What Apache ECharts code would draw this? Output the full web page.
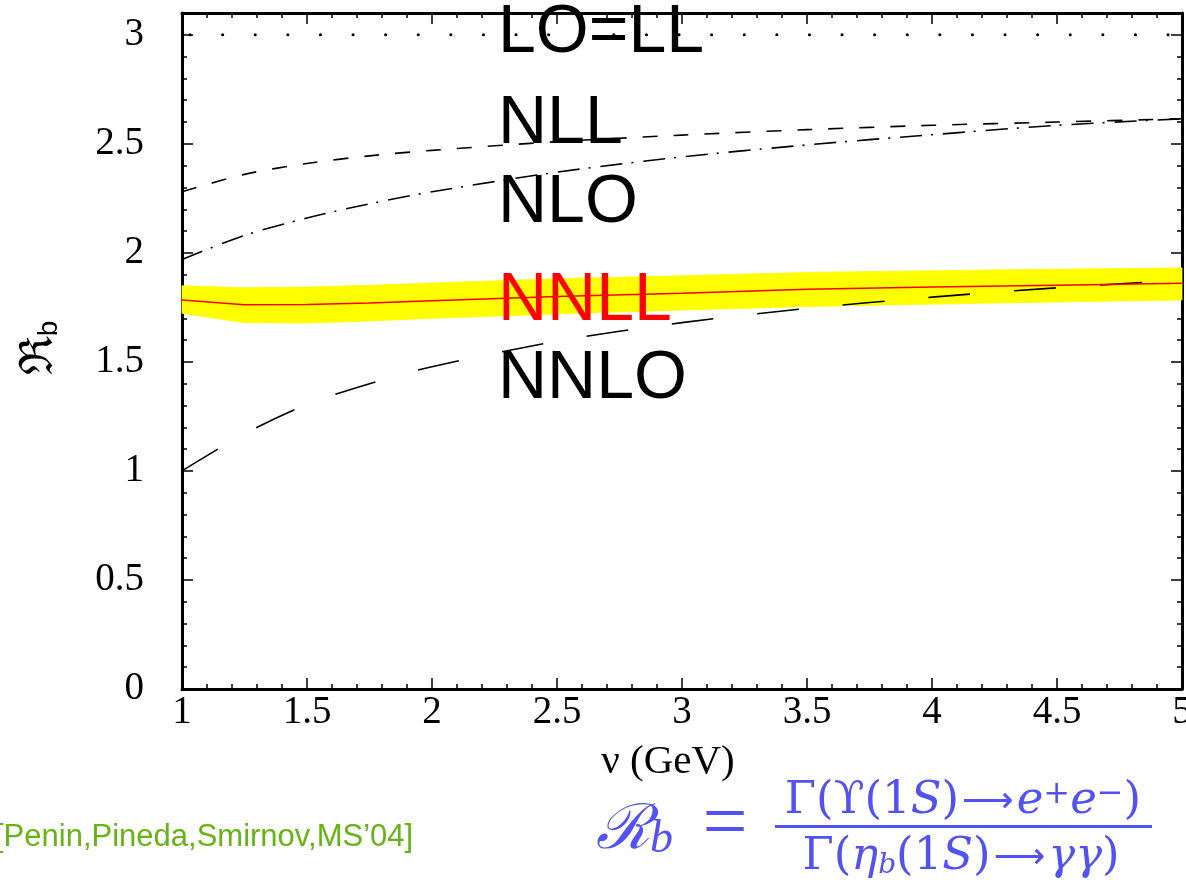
<!DOCTYPE html>
<html><head><meta charset="utf-8">
<script src="https://cdn.jsdelivr.net/npm/echarts@6/dist/echarts.min.js"></script>
<style>html,body{margin:0;padding:0;background:#fff}#c{width:1186px;height:882px}</style>
</head><body><div id="c"></div>
<script>
// ---- data ----
const nu        = [1,    1.25,  1.5,   1.75,  2,     2.5,   3,     3.5,   4,     4.5,   5];
const loLL      = [3,    3,     3,     3,     3,     3,     3,     3,     3,     3,     3];
const nll       = [2.28, 2.36,  2.41,  2.445, 2.47,  2.51,  2.54,  2.565, 2.585, 2.60,  2.615];
const nlo       = [1.97, 2.08,  2.16,  2.225, 2.28,  2.37,  2.44,  2.495, 2.542, 2.585, 2.615];
const nnll      = [1.784,1.762, 1.763, 1.77,  1.78,  1.80,  1.815, 1.833, 1.843, 1.852, 1.861];
const nnllUpper = [1.849,1.840, 1.843, 1.851, 1.862, 1.881, 1.895, 1.910, 1.918, 1.925, 1.931];
const nnllLower = [1.723,1.680, 1.678, 1.688, 1.700, 1.720, 1.738, 1.754, 1.765, 1.775, 1.784];
const nnlo      = [1.0,  1.17,  1.305, 1.40,  1.478, 1.595, 1.68,  1.745, 1.797, 1.84,  1.875];
const curveLabels = ['LO=LL', 'NLL', 'NLO', 'NNLL', 'NNLO'];
const xName = 'ν (GeV)';
const citation = '[Penin,Pineda,Smirnov,MS\u201904]';

const pairs = ys => nu.map((x, i) => [x, ys[i]]);

const serif = '"Liberation Serif","Times New Roman",serif';
const dserif = '"DejaVu Serif",serif';
const sans = '"Liberation Sans",Arial,sans-serif';
const blue = '#5252f2';

function xAx(pos, major, labels) {
  return {
    type: 'value', min: 1, max: 5, interval: major ? 0.5 : 0.1, position: pos,
    axisLine: { show: major, onZero: false, lineStyle: { color: '#000', width: 3 } },
    axisTick: { show: true, inside: true, length: major ? 11 : 5, lineStyle: { color: '#000', width: 1.5 } },
    axisLabel: { show: labels, fontFamily: serif, fontSize: 39, color: '#000', margin: 4,
                 formatter: v => String(v) },
    splitLine: { show: false }
  };
}
function yAx(pos, major, labels) {
  return {
    type: 'value', min: 0, max: 3.1, interval: major ? 0.5 : 0.1, position: pos,
    axisLine: { show: major, onZero: false, lineStyle: { color: '#000', width: 3 } },
    axisTick: { show: true, inside: true, length: major ? 11 : 5, lineStyle: { color: '#000', width: 1.5 } },
    axisLabel: { show: labels, fontFamily: serif, fontSize: 39, color: '#000', margin: 38,
                 formatter: v => (Math.abs(v * 2 - Math.round(v * 2)) < 1e-6 ? String(v) : '') },
    splitLine: { show: false }
  };
}

const chart = echarts.init(document.getElementById('c'), null, { renderer: 'canvas' });
const labelFont = 'normal 68px ' + sans;
const fracRich = {
  n: { font: 'normal 45px ' + dserif, fill: blue, verticalAlign: 'bottom' },
  i: { font: 'italic 45px ' + dserif, fill: blue, verticalAlign: 'bottom' },
  a: { font: 'normal 36px "DejaVu Sans",sans-serif', fill: blue, verticalAlign: 'bottom', padding: [0, 3, 3, 3] },
  p: { font: 'normal 32px ' + dserif, fill: blue, verticalAlign: 'top' },
  s: { font: 'italic 28px ' + dserif, fill: blue, verticalAlign: 'bottom' }
};
chart.setOption({
  animation: false,
  backgroundColor: '#fff',
  grid: { left: 182, top: 13, right: 4, bottom: 193, containLabel: false, outerBoundsMode: 'none' },
  xAxis: [xAx('bottom', true, true), xAx('bottom', false, false), xAx('top', true, false), xAx('top', false, false)],
  yAxis: [yAx('left', true, true), yAx('left', false, false), yAx('right', true, false), yAx('right', false, false)],
  series: [
    { name: 'NNLL band', type: 'custom', silent: true, z: 1,
      data: nu.map((x, i) => [x, nnllLower[i], nnllUpper[i]]),
      renderItem: function (params, api) {
        const i = params.dataIndex;
        if (i >= nu.length - 1) return null;
        const pts = [
          api.coord([nu[i], nnllLower[i]]), api.coord([nu[i + 1], nnllLower[i + 1]]),
          api.coord([nu[i + 1], nnllUpper[i + 1]]), api.coord([nu[i], nnllUpper[i]])
        ];
        return { type: 'polygon', shape: { points: pts },
                 style: { fill: '#ffff00', stroke: '#ffff00', lineWidth: 0.8 } };
      } },
    { name: 'LO=LL', type: 'line', data: pairs(loLL), symbol: 'none',
      lineStyle: { color: '#000', width: 3, type: [0.1, 32.5], cap: 'round', dashOffset: -8 }, z: 3 },
    { name: 'NLL', type: 'line', data: pairs(nll), symbol: 'none', smooth: 0.3,
      lineStyle: { color: '#000', width: 1.6, type: [15, 16] }, z: 3 },
    { name: 'NLO', type: 'line', data: pairs(nlo), symbol: 'none', smooth: 0.3,
      lineStyle: { color: '#000', width: 1.6, type: [22, 9, 2, 10] }, z: 3 },
    { name: 'NNLL', type: 'line', data: pairs(nnll), symbol: 'none',
      lineStyle: { color: '#ff0000', width: 1.5 }, z: 4 },
    { name: 'NNLO', type: 'line', data: pairs(nnlo), symbol: 'none', smooth: 0.3,
      lineStyle: { color: '#000', width: 1.6, type: [42, 44] }, z: 3 }
  ],
  graphic: [
    { type: 'text', x: 498, y: 33, z: 10, style: { text: curveLabels[0], font: labelFont, fill: '#000', verticalAlign: 'middle' } },
    { type: 'text', x: 498, y: 124, z: 10, style: { text: curveLabels[1], font: labelFont, fill: '#000', verticalAlign: 'middle' } },
    { type: 'text', x: 498, y: 203, z: 10, style: { text: curveLabels[2], font: labelFont, fill: '#000', verticalAlign: 'middle' } },
    { type: 'text', x: 498, y: 301, z: 10, style: { text: curveLabels[3], font: labelFont, fill: '#ff0000', verticalAlign: 'middle' } },
    { type: 'text', x: 498, y: 379, z: 10, style: { text: curveLabels[4], font: labelFont, fill: '#000', verticalAlign: 'middle' } },
    // axis names
    { type: 'text', x: 668, y: 762, z: 10, style: { text: xName, font: 'normal 41px ' + serif, fill: '#000', align: 'center', verticalAlign: 'middle' } },
    { type: 'text', x: 40, y: 348, rotation: Math.PI / 2, z: 10,
      style: { text: '{r|ℜ}{s|b}', align: 'center', verticalAlign: 'middle', fill: '#000',
        rich: { r: { font: 'normal 46px "DejaVu Serif",serif', fill: '#000', verticalAlign: 'bottom' },
                s: { font: 'normal 28px ' + sans, fill: '#000', verticalAlign: 'bottom' } } } },
    // citation
    { type: 'text', x: -5, y: 837, z: 10, style: { text: citation, font: 'normal 31px ' + sans, fill: '#66b414', verticalAlign: 'middle' } },
    // formula
    { type: 'text', x: 596, y: 832, z: 10, style: { text: '{r|ℛ}{b|b}', fill: blue, verticalAlign: 'middle',
        rich: { r: { font: 'italic 62px "DejaVu Serif",serif', fill: blue, verticalAlign: 'middle' },
                b: { font: 'italic 46px ' + serif, fill: blue, verticalAlign: 'bottom' } } } },
    { type: 'text', x: 725, y: 827, z: 10, style: { text: '=', font: 'normal 80px ' + serif, fill: blue, align: 'center', verticalAlign: 'middle' } },
    { type: 'rect', shape: { x: 775, y: 825, width: 377, height: 3 }, style: { fill: blue }, z: 10 },
    { type: 'text', x: 963, y: 801, z: 10, style: {
        text: '{n|Γ(ϒ(1}{i|S}{n|)}{a|⟶}{i|e}{p|+}{i|e}{p|−}{n|)}', align: 'center', verticalAlign: 'middle', fill: blue,
        rich: fracRich } },
    { type: 'text', x: 961, y: 857, z: 10, style: {
        text: '{n|Γ(}{i|η}{s|b}{n|(1}{i|S}{n|)}{a|⟶}{i|γγ}{n|)}', align: 'center', verticalAlign: 'middle', fill: blue,
        rich: fracRich } }
  ]
});
</script>
</body></html>
